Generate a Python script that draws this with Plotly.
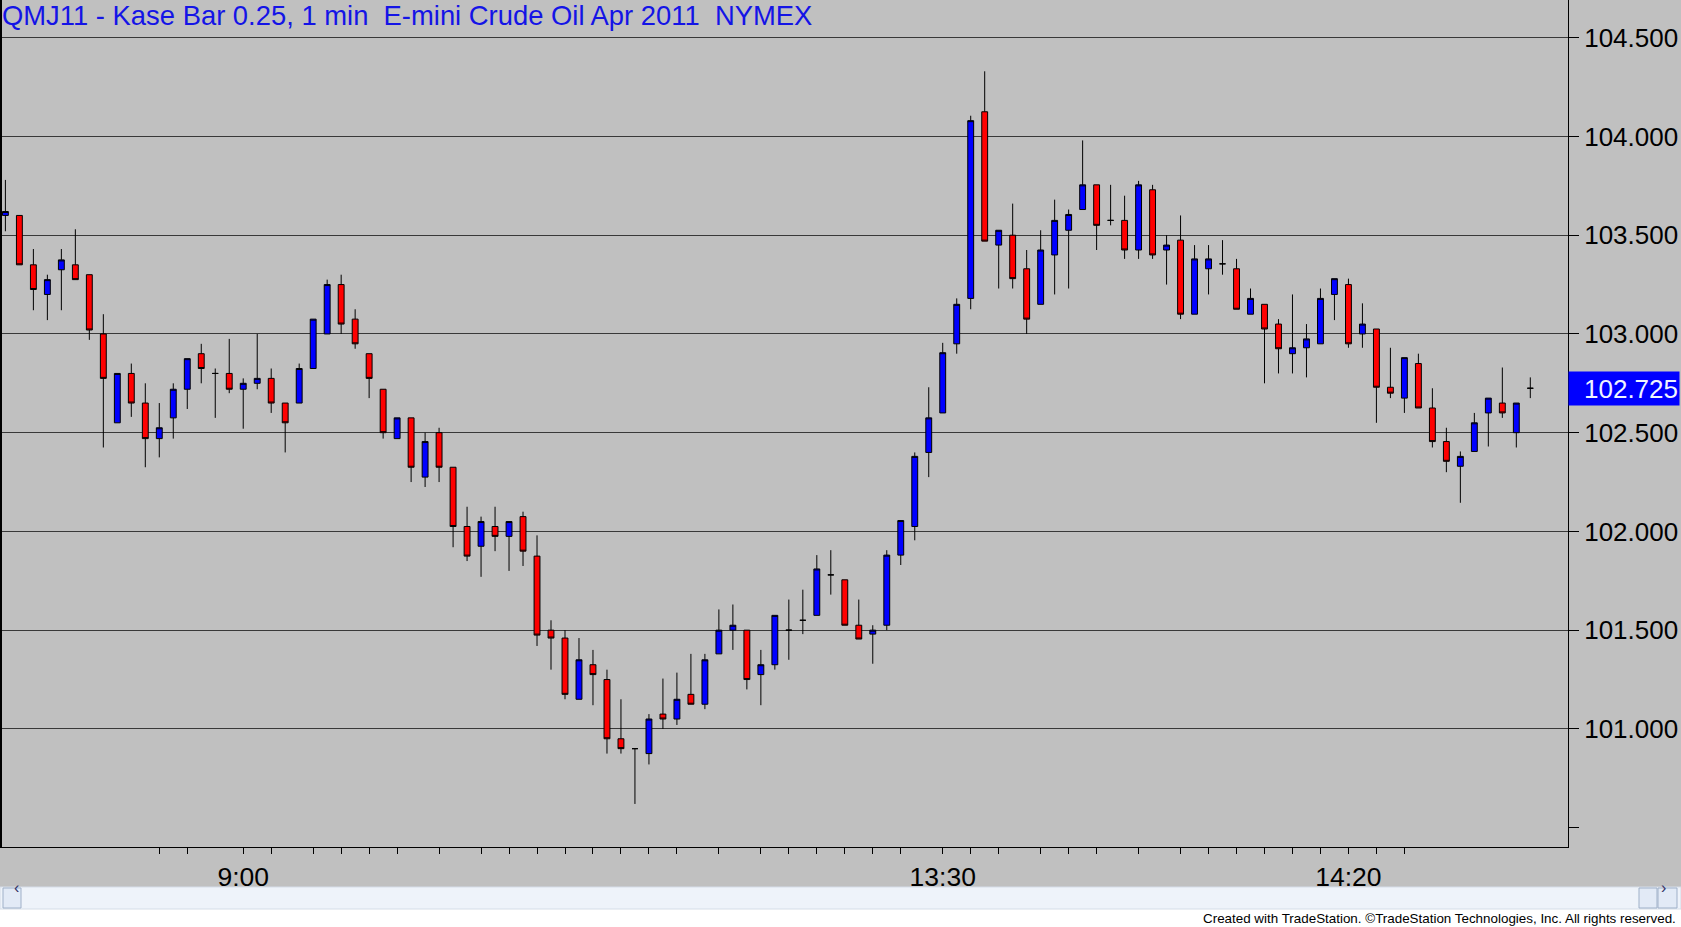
import plotly.graph_objects as go

# Kase bars (0.25), in drawing order
opens = [103.60, 103.60, 103.35, 103.20, 103.325, 103.35, 103.30, 103.00, 102.55, 102.80,
         102.65, 102.47, 102.575, 102.72, 102.90, 102.80, 102.80, 102.72, 102.75, 102.775,
         102.65, 102.65, 102.825, 103.00, 103.25, 103.075, 102.90, 102.72, 102.47, 102.575,
         102.275, 102.50, 102.325, 102.025, 101.925, 102.025, 101.975, 102.075, 101.875, 101.50,
         101.46, 101.15, 101.325, 101.25, 100.95, 100.90, 100.875, 101.075, 101.05, 101.175,
         101.125, 101.38, 101.50, 101.50, 101.275, 101.325, 101.50, 101.55, 101.575, 101.78,
         101.755, 101.525, 101.48, 101.525, 101.88, 102.025, 102.40, 102.60, 102.95, 103.18,
         104.125, 103.45, 103.50, 103.33, 103.15, 103.40, 103.525, 103.63, 103.755, 103.575,
         103.575, 103.425, 103.73, 103.425, 103.475, 103.10, 103.33, 103.355, 103.33, 103.10,
         103.15, 103.05, 102.90, 102.93, 102.95, 103.20, 103.25, 103.00, 103.025, 102.73,
         102.675, 102.85, 102.625, 102.455, 102.33, 102.405, 102.60, 102.65, 102.50, 102.725]
highs = [103.78, 103.60, 103.43, 103.30, 103.43, 103.53, 103.30, 103.10, 102.80, 102.85,
         102.75, 102.65, 102.75, 102.875, 102.95, 102.825, 102.975, 102.775, 103.00, 102.825,
         102.65, 102.85, 103.075, 103.275, 103.30, 103.125, 102.90, 102.72, 102.575, 102.575,
         102.50, 102.525, 102.325, 102.125, 102.075, 102.125, 102.05, 102.10, 101.98, 101.55,
         101.50, 101.46, 101.40, 101.30, 101.15, 100.90, 101.075, 101.255, 101.285, 101.38,
         101.38, 101.605, 101.63, 101.50, 101.40, 101.575, 101.655, 101.705, 101.88, 101.905,
         101.755, 101.655, 101.525, 101.905, 102.055, 102.40, 102.73, 102.955, 103.18, 104.105,
         104.33, 103.525, 103.66, 103.425, 103.525, 103.68, 103.63, 103.98, 103.755, 103.755,
         103.70, 103.775, 103.755, 103.50, 103.60, 103.45, 103.45, 103.475, 103.38, 103.23,
         103.15, 103.075, 103.20, 103.05, 103.23, 103.28, 103.28, 103.155, 103.025, 102.93,
         102.88, 102.90, 102.725, 102.525, 102.405, 102.60, 102.675, 102.83, 102.65, 102.78]
lows = [103.52, 103.35, 103.12, 103.07, 103.12, 103.275, 102.97, 102.425, 102.55, 102.58,
        102.325, 102.375, 102.47, 102.62, 102.75, 102.575, 102.70, 102.52, 102.72, 102.60,
        102.40, 102.65, 102.825, 103.00, 103.00, 102.925, 102.675, 102.47, 102.47, 102.25,
        102.225, 102.25, 101.92, 101.85, 101.77, 101.90, 101.80, 101.825, 101.42, 101.30,
        101.15, 101.15, 101.12, 100.875, 100.875, 100.62, 100.82, 101.00, 101.02, 101.125,
        101.10, 101.38, 101.40, 101.20, 101.12, 101.30, 101.35, 101.48, 101.575, 101.68,
        101.525, 101.455, 101.33, 101.50, 101.83, 101.955, 102.275, 102.60, 102.90, 103.125,
        103.47, 103.23, 103.23, 103.00, 103.15, 103.20, 103.23, 103.63, 103.425, 103.55,
        103.38, 103.38, 103.38, 103.25, 103.075, 103.10, 103.20, 103.30, 103.125, 103.10,
        102.75, 102.80, 102.80, 102.78, 102.95, 103.07, 102.93, 102.93, 102.55, 102.675,
        102.60, 102.625, 102.425, 102.30, 102.145, 102.405, 102.43, 102.575, 102.425, 102.675]
closes = [103.62, 103.35, 103.225, 103.275, 103.375, 103.275, 103.02, 102.775, 102.80, 102.65,
          102.47, 102.525, 102.72, 102.875, 102.825, 102.80, 102.72, 102.75, 102.775, 102.65,
          102.55, 102.825, 103.075, 103.25, 103.05, 102.95, 102.775, 102.50, 102.575, 102.325,
          102.455, 102.325, 102.025, 101.875, 102.05, 101.975, 102.05, 101.90, 101.475, 101.46,
          101.175, 101.35, 101.275, 100.95, 100.90, 100.90, 101.05, 101.05, 101.15, 101.125,
          101.35, 101.50, 101.525, 101.25, 101.325, 101.575, 101.50, 101.55, 101.81, 101.78,
          101.525, 101.455, 101.50, 101.88, 102.055, 102.38, 102.575, 102.905, 103.15, 104.08,
          103.47, 103.525, 103.28, 103.075, 103.425, 103.575, 103.605, 103.755, 103.55, 103.575,
          103.425, 103.755, 103.40, 103.45, 103.10, 103.38, 103.38, 103.355, 103.125, 103.18,
          103.025, 102.925, 102.93, 102.975, 103.18, 103.28, 102.95, 103.05, 102.73, 102.70,
          102.88, 102.625, 102.455, 102.355, 102.38, 102.55, 102.675, 102.60, 102.65, 102.725]
bars = list(range(len(opens)))

price_ticks = [101.0, 101.5, 102.0, 102.5, 103.0, 103.5, 104.0, 104.5]
time_ticks = [11, 13, 17, 19, 22, 24, 26, 28, 31, 34, 36, 38, 40, 42, 44, 46, 48, 51, 54, 56,
              58, 60, 62, 64, 67, 69, 71, 74, 76, 78, 81, 84, 86, 88, 90, 92, 94, 96, 98, 100]
time_labels = {17: '9:00', 67: '13:30', 96: '14:20'}
last_price = closes[-1]

W, H = 1681, 927
PLOT_W, PLOT_H = 1568, 847
FONT = 'Liberation Sans, Arial, sans-serif'


def px(x):
    return x / PLOT_W


def py(y):
    return (PLOT_H - y) / PLOT_H


fig = go.Figure(go.Candlestick(
    x=bars, open=opens, high=highs, low=lows, close=closes,
    increasing=dict(fillcolor='#0000FF', line=dict(color='black', width=1)),
    decreasing=dict(fillcolor='#FF0000', line=dict(color='black', width=1)),
    whiskerwidth=0, showlegend=False,
))

# scrollbar / footer strip under the chart
fig.add_shape(type='rect', xref='paper', yref='paper', x0=px(-2), x1=px(W + 2), y0=py(909), y1=py(H + 5),
              fillcolor='white', line_width=0, layer='below')
fig.add_shape(type='rect', xref='paper', yref='paper', x0=px(0), x1=px(W), y0=py(909), y1=py(887),
              fillcolor='#EEF3FA', line=dict(color='#D5DDE8', width=1), layer='below')
for x0, x1 in [(3, 21), (1639, 1657), (1658, 1677)]:
    fig.add_shape(type='rect', xref='paper', yref='paper', x0=px(x0), x1=px(x1), y0=py(908), y1=py(888),
                  fillcolor='#E2EAF6', line=dict(color='#9FB0C8', width=1), layer='below')
fig.add_shape(type='line', xref='paper', yref='paper', x0=0, x1=0, y0=0, y1=1,
              line=dict(color='black', width=4))

fig.add_annotation(x=0, y=1, xref='paper', yref='paper', xanchor='left', yanchor='top',
                   xshift=0, yshift=2, showarrow=False,
                   text='QMJ11 - Kase Bar 0.25, 1 min\u00a0 E-mini Crude Oil Apr 2011\u00a0 NYMEX',
                   font=dict(family=FONT, size=27.4, color='#1414E6'))
fig.add_annotation(x=1, y=last_price, xref='paper', yref='y', xanchor='left', yanchor='middle',
                   showarrow=False, text=f'{last_price:.3f}', width=108, height=31, align='right',
                   bgcolor='#0000FF', font=dict(family=FONT, size=26, color='#F0F4FF'))
fig.add_annotation(x=px(12), y=py(898), xref='paper', yref='paper', showarrow=False, text='\u2039',
                   font=dict(family=FONT, size=16, color='#333366'))
fig.add_annotation(x=px(1667.5), y=py(898), xref='paper', yref='paper', showarrow=False, text='\u203a',
                   font=dict(family=FONT, size=16, color='#333366'))
fig.add_annotation(x=px(1678), y=py(918), xref='paper', yref='paper', xanchor='right', yanchor='middle',
                   showarrow=False,
                   text='Created with TradeStation. \u00a9TradeStation Technologies, Inc. All rights reserved.',
                   font=dict(family=FONT, size=13.4, color='black'))

fig.update_layout(
    width=W, height=H,
    margin=dict(l=0, r=W - PLOT_W, t=0, b=H - PLOT_H, pad=0),
    paper_bgcolor='#C0C0C0', plot_bgcolor='#C0C0C0',
    boxgap=0.4,
    showlegend=False,
    xaxis=dict(
        range=[-5.4 / 13.99, (PLOT_W - 5.4) / 13.99],
        rangeslider=dict(visible=False),
        tickmode='array', tickvals=time_ticks,
        ticktext=[time_labels.get(t, '') for t in time_ticks],
        ticks='outside', ticklen=6, tickwidth=1, tickcolor='black',
        showgrid=False, zeroline=False,
        showline=True, linecolor='black', linewidth=1, mirror=True,
        tickfont=dict(family=FONT, size=26.5, color='black'),
    ),
    yaxis=dict(
        side='right',
        range=[100.402, 104.691],
        tickmode='array', tickvals=price_ticks, tickformat='.3f',
        ticks='outside', ticklen=10, tickwidth=1, tickcolor='black',
        minor=dict(tickmode='array', tickvals=[100.5], ticks='outside', ticklen=10,
                   tickcolor='black', showgrid=False),
        showgrid=True, gridcolor='#383838', gridwidth=1,
        zeroline=False, showline=True, linecolor='black', linewidth=1,
        tickfont=dict(family=FONT, size=26, color='black'),
    ),
)

fig.write_html("out.html", config={'displayModeBar': False},
               post_script="document.body.style.margin='0';document.body.style.overflow='hidden';")
